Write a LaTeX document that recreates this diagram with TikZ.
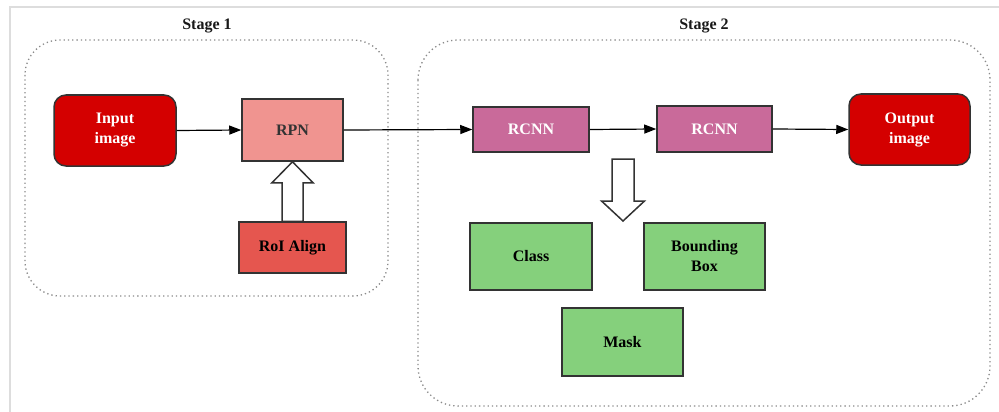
\documentclass[tikz,border=0pt]{standalone}
\usepackage{fontspec}
\setmainfont{Liberation Serif}
\usetikzlibrary{arrows.meta,calc}
\definecolor{inred}{HTML}{D40000}
\definecolor{rpnc}{HTML}{F09490}
\definecolor{roic}{HTML}{E5564F}
\definecolor{rcnnc}{HTML}{C96A9A}
\definecolor{greenc}{HTML}{85D07C}
\definecolor{edge}{HTML}{333333}
\definecolor{framec}{HTML}{DDDDDD}
\definecolor{dotc}{HTML}{8A8A8A}
\begin{document}
\begin{tikzpicture}[x=1pt,y=-1pt,
  lbl/.style={font=\fontsize{16}{20}\selectfont\bfseries, align=center},
  boxbase/.style={lbl, draw=edge, line width=1.5pt, inner sep=0pt},
  iobox/.style={boxbase, fill=inred, text=white, rounded corners=12pt},
  rpnbox/.style={boxbase, fill=rpnc, text=edge},
  roibox/.style={boxbase, fill=roic, text=black},
  rcnnbox/.style={boxbase, fill=rcnnc, text=white},
  outbox/.style={boxbase, fill=greenc, text=black},
  conn/.style={draw=black, line width=1.2pt, -{Triangle[length=12pt,width=9pt]}},
  hollow/.style={draw=edge, fill=white, line width=1.5pt, line join=miter},
  stagebox/.style={draw=dotc, line width=1.3pt, dash pattern=on 1.3pt off 3pt},
  stagelbl/.style={font=\fontsize{16}{20}\selectfont\bfseries, text=black!90},
  framel/.style={draw=framec, line width=2pt}]
\useasboundingbox (0,0) rectangle (999,412);
\draw[framel] (9.5,412) -- (9.5,7) -- (999,7);

% stage containers
\draw[stagebox, rounded corners=35pt] (25,40) rectangle (388,296);
\draw[stagebox, rounded corners=40pt] (418,40) rectangle (990,406);
\node[stagelbl] (s1) at (207,26) {Stage 1};
\node[stagelbl] (s2) at (704,26) {Stage 2};

% nodes
\node[iobox, minimum width=122pt, minimum height=71pt] (inp) at (115,130.5) {Input\\image};
\node[rpnbox, minimum width=101pt, minimum height=62pt] (rpn) at (292.5,130) {RPN};
\node[roibox, minimum width=107pt, minimum height=51pt] (roi) at (292.5,247.5) {RoI Align};
\node[rcnnbox, minimum width=116pt, minimum height=45pt] (rc1) at (531,129.5) {RCNN};
\node[rcnnbox, minimum width=115pt, minimum height=46pt] (rc2) at (714.5,129) {RCNN};
\node[iobox, minimum width=121pt, minimum height=71pt] (out) at (909.5,129.5) {Output\\image};
\node[outbox, minimum width=122pt, minimum height=67pt] (cls) at (531,256.5) {Class};
\node[outbox, minimum width=121pt, minimum height=67pt] (bb) at (704.5,256.5) {Bounding\\Box};
\node[outbox, minimum width=121pt, minimum height=68pt] (msk) at (622.5,342) {Mask};

% connectors
\draw[conn] (inp.east) -- (rpn.west);
\draw[conn] (rpn.east) -- (rc1.west);
\draw[conn] (rc1.east) -- (rc2.west);
\draw[conn] (rc2.east) -- (out.west);

% hollow arrow RoI Align -> RPN
\draw[hollow] ($(roi.north)+(-10.5,0)$) -- ($(rpn.south)+(-10.5,21)$)
  -- ($(rpn.south)+(-20.5,21)$) -- (rpn.south) -- ($(rpn.south)+(20.5,21)$)
  -- ($(rpn.south)+(10.5,21)$) -- ($(roi.north)+(10.5,0)$) -- cycle;

% hollow arrow down (to outputs)
\coordinate (dtop) at (623,159);
\coordinate (dtip) at (623,221);
\draw[hollow] ($(dtop)+(-11,0)$) -- ($(dtip)+(-11,-20)$) -- ($(dtip)+(-21.5,-20)$)
  -- (dtip) -- ($(dtip)+(21.5,-20)$) -- ($(dtip)+(11,-20)$) -- ($(dtop)+(11,0)$) -- cycle;
\end{tikzpicture}
\end{document}
